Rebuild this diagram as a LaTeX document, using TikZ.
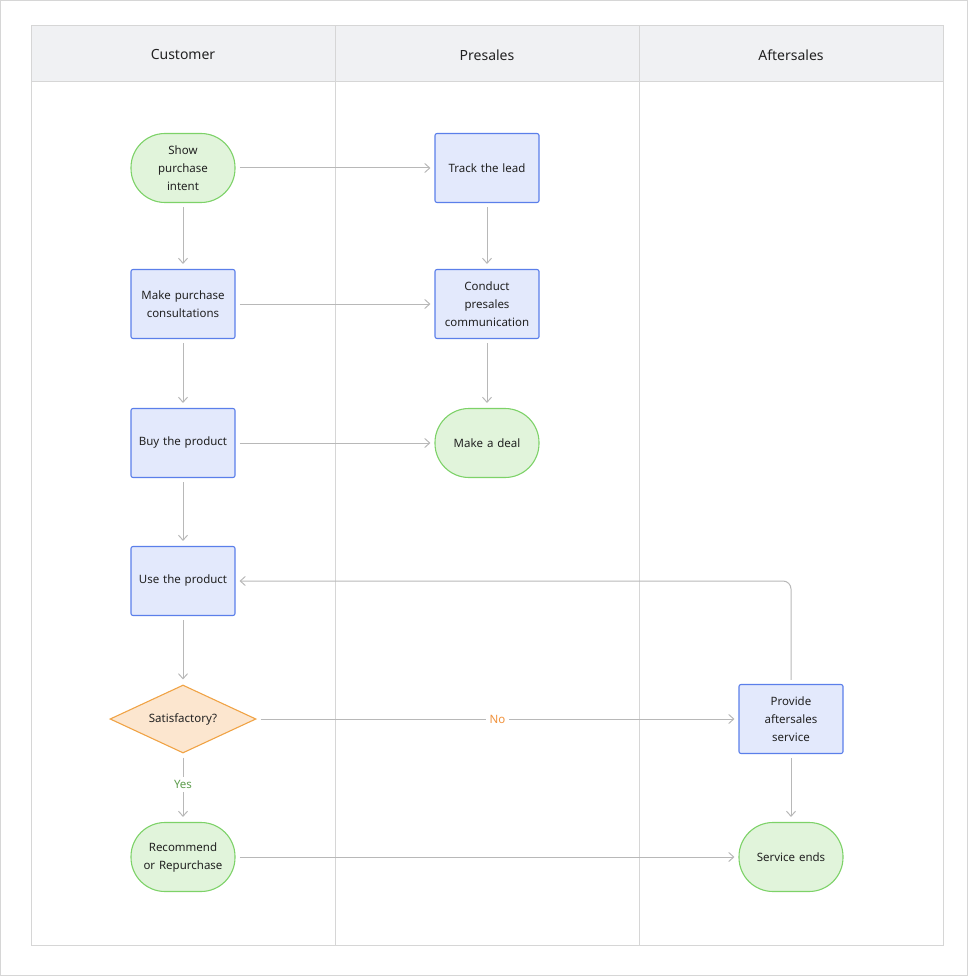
\documentclass[tikz,border=0pt]{standalone}
\usepackage{fontspec}
\setmainfont{Noto Sans}
\usetikzlibrary{shapes.geometric,arrows.meta}
\definecolor{bfill}{HTML}{E3E9FC}\definecolor{bline}{HTML}{5B7FEA}
\definecolor{gfill}{HTML}{E1F4DB}\definecolor{gline}{HTML}{7DD268}
\definecolor{ofill}{HTML}{FCE6CF}\definecolor{oline}{HTML}{F0A345}
\definecolor{grid}{HTML}{D6D6D6}\definecolor{head}{HTML}{F0F1F3}
\definecolor{arr}{HTML}{B8B8B8}\definecolor{txt}{HTML}{222222}
\begin{document}
\begin{tikzpicture}[x=1pt,y=-1pt,font=\fontsize{11.5}{18}\selectfont,text=txt,
 box/.style={draw=bline,fill=bfill,line width=1.1pt,rounded corners=2pt,minimum width=104pt,minimum height=69pt,align=center,text width=100pt,inner sep=1pt},
 pill/.style={draw=gline,fill=gfill,line width=1.1pt,rounded corners=34pt,minimum width=104pt,minimum height=69pt,align=center,text width=100pt,inner sep=1pt},
 dia/.style={draw=oline,fill=ofill,line width=1.1pt,diamond,aspect=2.15,minimum width=146pt,minimum height=68pt,inner sep=0pt},
 ar/.style={draw=arr,line width=1pt,-{Straight Barb[length=5pt,width=9pt]}},
 lab/.style={fill=white}]
\useasboundingbox (0,0) rectangle (968,976);
\draw[grid,line width=0.6pt] (0.5,0.5) rectangle (967.5,975.5);
\fill[head] (31,26) rectangle (943,82);
\draw[grid,line width=1pt] (31,26) rectangle (943,945) (31,82)--(943,82) (335,26)--(335,945) (639,26)--(639,945);
\node[font=\fontsize{14}{16}\selectfont] (h1) at (183,55) {Customer};
\node[font=\fontsize{14}{16}\selectfont] (h2) at (487,55) {Presales};
\node[font=\fontsize{14}{16}\selectfont] (h3) at (791,55) {Aftersales};
\node[pill] (a) at (183,168) {Show\\purchase\\intent};
\node[box] (t) at (487,168) {Track the lead};
\node[box] (m) at (183,304) {Make purchase\\consultations};
\node[box] (c) at (487,304) {Conduct\\presales\\communication};
\node[box] (b) at (183,443) {Buy the product};
\node[pill] (d) at (487,443) {Make a deal};
\node[box] (u) at (183,581) {Use the product};
\node[dia] (s) at (183,719) {Satisfactory?};
\node[box] (p) at (791,719) {Provide\\aftersales\\service};
\node[pill] (r) at (183,857) {Recommend\\or Repurchase};
\node[pill] (e) at (791,857) {Service ends};
\draw[ar] ([xshift=4pt]a.east)--([xshift=-4pt]t.west);
\draw[ar] ([yshift=-4pt]t.south)--([yshift=5pt]c.north);
\draw[ar] ([xshift=4pt]m.east)--([xshift=-4pt]c.west);
\draw[ar] ([yshift=-4pt]c.south)--([yshift=5pt]d.north);
\draw[ar] ([yshift=-4pt]a.south)--([yshift=5pt]m.north);
\draw[ar] ([yshift=-4pt]m.south)--([yshift=5pt]b.north);
\draw[ar] ([xshift=4pt]b.east)--([xshift=-4pt]d.west);
\draw[ar] ([yshift=-4pt]b.south)--([yshift=5pt]u.north);
\draw[ar] ([yshift=-4pt]u.south)--([yshift=5pt]s.north);
\draw[ar] ([xshift=4pt]s.east)-- node[lab,text=oline!90!red,pos=0.5]{No} ([xshift=-4pt]p.west);
\draw[ar] ([yshift=-4pt]s.south)-- node[lab,text=gline!75!black,pos=0.45]{Yes} ([yshift=5pt]r.north);
\draw[ar,rounded corners=8pt] ([yshift=4pt]p.north)--(791,581)--([xshift=4pt]u.east);
\draw[ar] ([yshift=-4pt]p.south)--([yshift=5pt]e.north);
\draw[ar] ([xshift=4pt]r.east)--([xshift=-4pt]e.west);
\end{tikzpicture}
\end{document}
